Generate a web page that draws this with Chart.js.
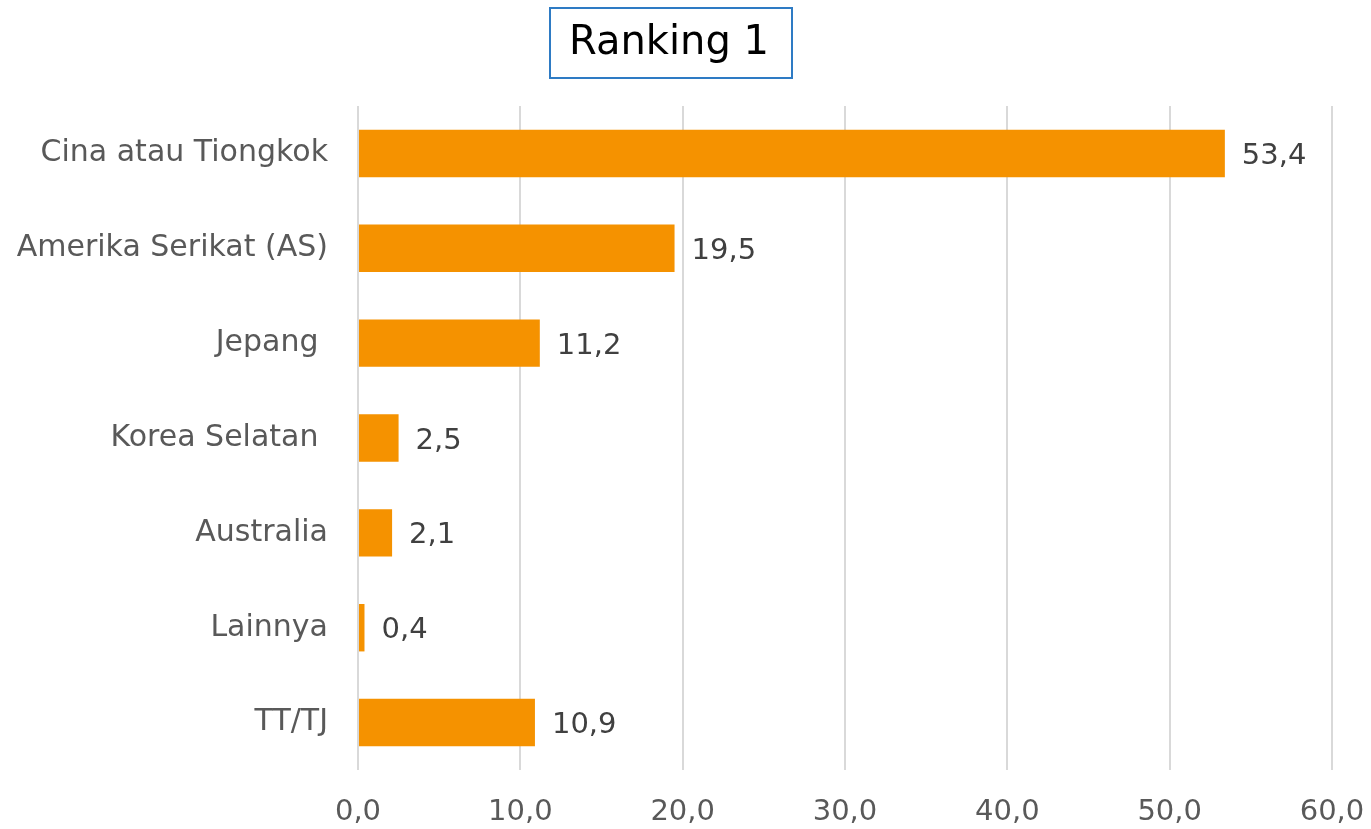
<!DOCTYPE html>
<html>
<head>
<meta charset="utf-8">
<script src="https://cdn.jsdelivr.net/npm/chart.js@4.4.0/dist/chart.umd.min.js"></script>
<style>
  html, body { margin: 0; padding: 0; background: #fff; }
  #wrap { width: 1371px; height: 829px; position: relative; }
</style>
</head>
<body>
<div id="wrap"><canvas id="rankChart" width="1371" height="829"></canvas></div>
<script>
const chartTitle = 'Ranking 1';
const categories = ['Cina atau Tiongkok', 'Amerika Serikat (AS)', 'Jepang ', 'Korea Selatan ', 'Australia', 'Lainnya', 'TT/TJ'];
const values = [53.4, 19.5, 11.2, 2.5, 2.1, 0.4, 10.9];
const xTicks = [0, 10, 20, 30, 40, 50, 60];

const FONT = '"DejaVu Sans", sans-serif';
const fmt = v => v.toFixed(1).replace('.', ',');

// judul dalam kotak biru
const titleBox = {
    id: 'titleBox',
    afterDraw(chart) {
        const ctx = chart.ctx;
        ctx.save();
        ctx.strokeStyle = '#2E7BC4';
        ctx.lineWidth = 2;
        ctx.strokeRect(550, 8, 242, 70);
        ctx.fillStyle = '#000';
        ctx.font = '40px ' + FONT;
        ctx.textAlign = 'center';
        ctx.textBaseline = 'middle';
        ctx.fillText(chartTitle, 669, 44);
        ctx.restore();
    }
};

// label nilai di ujung batang
const valueLabels = {
    id: 'valueLabels',
    afterDatasetsDraw(chart) {
        const ctx = chart.ctx;
        const meta = chart.getDatasetMeta(0);
        ctx.save();
        ctx.fillStyle = '#404040';
        ctx.font = '29px ' + FONT;
        ctx.textAlign = 'left';
        ctx.textBaseline = 'middle';
        meta.data.forEach((bar, i) => {
            ctx.fillText(fmt(values[i]), bar.x + 17, bar.y + 3);
        });
        ctx.restore();
    }
};

new Chart(document.getElementById('rankChart'), {
    type: 'bar',
    data: {
        labels: categories,
        datasets: [{
            data: values,
            backgroundColor: '#F59200',
            barPercentage: 0.5,
            categoryPercentage: 1.0
        }]
    },
    options: {
        indexAxis: 'y',
        responsive: false,
        animation: false,
        layout: { padding: { top: 106, right: 39, left: 0, bottom: 0 } },
        plugins: {
            legend: { display: false },
            tooltip: { enabled: false }
        },
        scales: {
            x: {
                min: 0,
                max: 60,
                afterBuildTicks: scale => { scale.ticks = xTicks.map(v => ({ value: v })); },
                grid: { color: '#D9D9D9', lineWidth: 2, drawTicks: false },
                border: { display: false },
                ticks: {
                    color: '#595959',
                    font: { family: FONT, size: 29 },
                    padding: 25,
                    maxRotation: 0,
                    callback: v => fmt(v)
                },
                afterFit: scale => {
                    scale.height = 59;
                    scale.paddingLeft = 0;
                    scale.paddingRight = 0;
                }
            },
            y: {
                grid: { display: false, drawTicks: false },
                border: { display: false },
                ticks: {
                    color: '#595959',
                    font: { family: FONT, size: 30 },
                    padding: 30
                },
                afterFit: scale => { scale.width = 358; }
            }
        }
    },
    plugins: [titleBox, valueLabels]
});
</script>
</body>
</html>
